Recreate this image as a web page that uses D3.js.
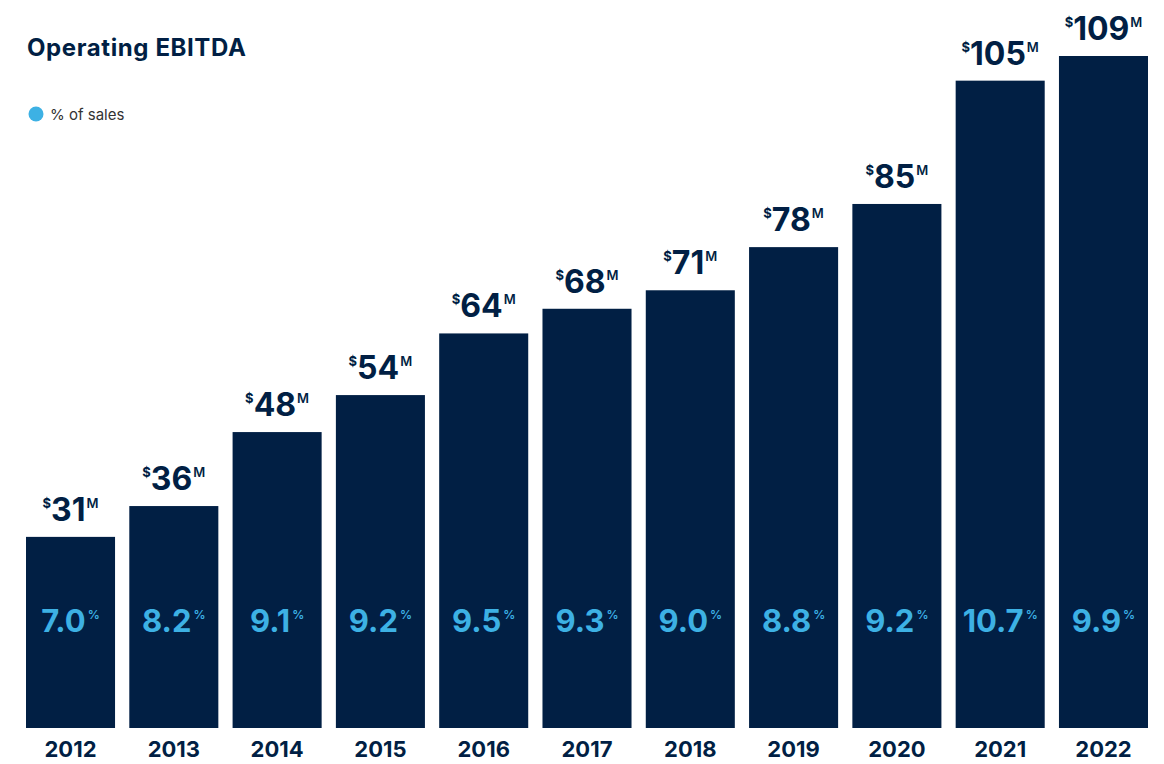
<!DOCTYPE html>
<html>
<head>
<meta charset="utf-8">
<script src="https://cdn.jsdelivr.net/npm/d3@7"></script>
<style>
  body { margin: 0; background: #fff; }
  text { font-family: Inter, "Noto Sans", sans-serif; }
</style>
</head>
<body>
<script>
const years = ['2012', '2013', '2014', '2015', '2016', '2017', '2018', '2019', '2020', '2021', '2022']
const ebitda = [31, 36, 48, 54, 64, 68, 71, 78, 85, 105, 109]
const pctSales = ['7.0', '8.2', '9.1', '9.2', '9.5', '9.3', '9.0', '8.8', '9.2', '10.7', '9.9']

const navy = '#011F44'
const blue = '#3DB1E4'
const width = 1164
const height = 764
const margin = { top: 56, right: 16, bottom: 36, left: 26 }

const svg = d3.select('body').append('svg')
  .attr('width', width)
  .attr('height', height)

const x = d3.scaleBand()
  .domain(years)
  .range([margin.left, width - margin.right])
  .paddingInner(0.138)
  .paddingOuter(0)

const y = d3.scaleLinear()
  .domain([0, 109])
  .range([height - margin.bottom, margin.top])

// title + legend
svg.append('text')
  .attr('x', 27)
  .attr('y', 56)
  .attr('fill', navy)
  .style('font-size', '24px')
  .style('font-weight', 700)
  .style('letter-spacing', '0.6px')
  .text('Operating EBITDA')

svg.append('circle')
  .attr('cx', 36)
  .attr('cy', 114)
  .attr('r', 7.5)
  .attr('fill', blue)

svg.append('text')
  .attr('x', 50)
  .attr('y', 120)
  .attr('fill', '#333')
  .style('font-size', '15px')
  .text('% of sales')

const bars = svg.selectAll('.bar')
  .data(years)
  .enter().append('g')
  .attr('class', 'bar')

bars.append('rect')
  .attr('x', d => x(d))
  .attr('y', (d, i) => y(ebitda[i]))
  .attr('width', x.bandwidth())
  .attr('height', (d, i) => y(0) - y(ebitda[i]))
  .attr('fill', navy)

// value labels above bars
const val = bars.append('text')
  .attr('x', d => x(d) + x.bandwidth() / 2)
  .attr('y', (d, i) => y(ebitda[i]) - 16)
  .attr('text-anchor', 'middle')
  .attr('fill', navy)
  .style('font-weight', 700)

val.append('tspan')
  .style('font-size', '13px')
  .attr('dy', -13)
  .text('$')
val.append('tspan')
  .style('font-size', '32px')
  .attr('dy', 13)
  .text((d, i) => ebitda[i])
val.append('tspan')
  .style('font-size', '13px')
  .style('font-weight', 600)
  .attr('dx', 1)
  .attr('dy', -13)
  .text('M')

// % of sales inside bars
const pct = bars.append('text')
  .attr('x', d => x(d) + x.bandwidth() / 2)
  .attr('y', y(0) - 96)
  .attr('text-anchor', 'middle')
  .attr('fill', blue)
  .style('font-weight', 700)

pct.append('tspan')
  .style('font-size', '31px')
  .text((d, i) => pctSales[i])
pct.append('tspan')
  .style('font-size', '12px')
  .style('font-weight', 600)
  .attr('dx', 2)
  .attr('dy', -13)
  .text('%')

// year axis
const xAxis = svg.append('g')
  .attr('transform', `translate(0, ${y(0)})`)
  .call(d3.axisBottom(x).tickSize(0).tickPadding(13))

xAxis.select('.domain').remove()
xAxis.selectAll('text')
  .attr('fill', navy)
  .style('font-family', 'Inter, "Noto Sans", sans-serif')
  .style('font-size', '22px')
  .style('font-weight', 700)
</script>
</body>
</html>
